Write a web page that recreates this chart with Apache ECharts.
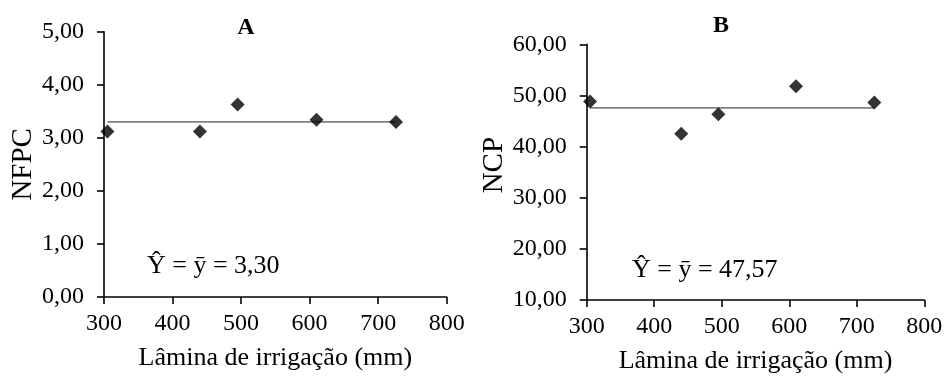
<!DOCTYPE html>
<html>
<head>
<meta charset="utf-8">
<script src="https://cdn.jsdelivr.net/npm/echarts@6/dist/echarts.min.js"></script>
<style>
  html, body { margin: 0; padding: 0; background: #fff; }
  #chart { width: 947px; height: 377px; }
</style>
</head>
<body>
<div id="chart"></div>
<script>
// irrigation depth (mm)
const laminas = [305, 440, 495, 610, 726];
// panel A - NFPC
const nfpc = [3.12, 3.12, 3.63, 3.34, 3.30];
const meanNfpc = 3.30;
// panel B - NCP
const ncp = [48.8, 42.5, 46.3, 51.8, 48.6];
const meanNcp = 47.57;

const xTicks = [300, 400, 500, 600, 700, 800];
const yTicksA = [0, 1, 2, 3, 4, 5];
const yTicksB = [10, 20, 30, 40, 50, 60];

const FONT = "'Liberation Serif', 'Times New Roman', serif";
const fmt = v => v.toFixed(2).replace('.', ',');

const chart = echarts.init(document.getElementById('chart'));

const xAxisBase = (gridIndex) => ({
  type: 'value',
  gridIndex,
  min: xTicks[0],
  max: xTicks[xTicks.length - 1],
  interval: xTicks[1] - xTicks[0],
  name: 'Lâmina de irrigação (mm)',
  nameLocation: 'middle',
  nameGap: 48,
  nameTextStyle: { fontFamily: FONT, fontSize: 26, color: '#000' },
  axisLine: { lineStyle: { color: '#000', width: 1.6 } },
  axisTick: { show: true, inside: false, length: 7, lineStyle: { color: '#000', width: 1.6 } },
  axisLabel: { fontFamily: FONT, fontSize: 24, color: '#000', margin: 15 },
  splitLine: { show: false }
});

const yAxisBase = (gridIndex, ticks, name, gap, pad) => ({
  type: 'value',
  gridIndex,
  min: ticks[0],
  max: ticks[ticks.length - 1],
  interval: ticks[1] - ticks[0],
  name,
  nameLocation: 'middle',
  nameGap: gap,
  nameTextStyle: { fontFamily: FONT, fontSize: 29, color: '#000', padding: pad },
  axisLine: { show: true, lineStyle: { color: '#000', width: 1.6 } },
  axisTick: { show: true, inside: false, length: 7, lineStyle: { color: '#000', width: 1.6 } },
  axisLabel: { fontFamily: FONT, fontSize: 24, color: '#000', margin: 20, formatter: fmt },
  splitLine: { show: false }
});

const pts = (xs, ys) => xs.map((x, i) => [x, ys[i]]);
const meanLine = (xs, m) => [[xs[0], m], [xs[xs.length - 1], m]];

chart.setOption({
  animation: false,
  backgroundColor: '#fff',
  title: [
    { text: 'A', left: 241, top: 11, textAlign: 'center',
      textStyle: { fontFamily: FONT, fontSize: 24, fontWeight: 'bold', color: '#000' } },
    { text: 'B', left: 716, top: 9, textAlign: 'center',
      textStyle: { fontFamily: FONT, fontSize: 24, fontWeight: 'bold', color: '#000' } },
    { text: 'Ŷ = ȳ = 3,30', left: 142, top: 248,
      textStyle: { fontFamily: FONT, fontSize: 26, fontWeight: 'normal', color: '#000' } },
    { text: 'Ŷ = ȳ = 47,57', left: 627, top: 252,
      textStyle: { fontFamily: FONT, fontSize: 26, fontWeight: 'normal', color: '#000' } }
  ],
  grid: [
    { left: 104, top: 31.7, width: 342.7, height: 265.3, containLabel: false, outerBoundsMode: 'none' },
    { left: 586.7, top: 44.3, width: 337.6, height: 255.7, containLabel: false, outerBoundsMode: 'none' }
  ],
  xAxis: [xAxisBase(0), xAxisBase(1)],
  yAxis: [
    yAxisBase(0, yTicksA, 'NFPC', 66, [0, 0, 0, 0]),
    yAxisBase(1, yTicksB, 'NCP', 78, [0, 0, 0, 14])
  ],
  series: [
    { type: 'line', xAxisIndex: 0, yAxisIndex: 0, data: meanLine(laminas, meanNfpc),
      symbol: 'none', lineStyle: { color: '#808080', width: 1.6 }, z: 1 },
    { type: 'scatter', xAxisIndex: 0, yAxisIndex: 0, data: pts(laminas, nfpc),
      symbol: 'diamond', symbolSize: 14, itemStyle: { color: '#000' }, z: 3 },
    { type: 'line', xAxisIndex: 1, yAxisIndex: 1, data: meanLine(laminas, meanNcp),
      symbol: 'none', lineStyle: { color: '#808080', width: 1.6 }, z: 1 },
    { type: 'scatter', xAxisIndex: 1, yAxisIndex: 1, data: pts(laminas, ncp),
      symbol: 'diamond', symbolSize: 14, itemStyle: { color: '#000' }, z: 3 }
  ]
});

window.addEventListener('resize', () => chart.resize());
</script>
</body>
</html>
